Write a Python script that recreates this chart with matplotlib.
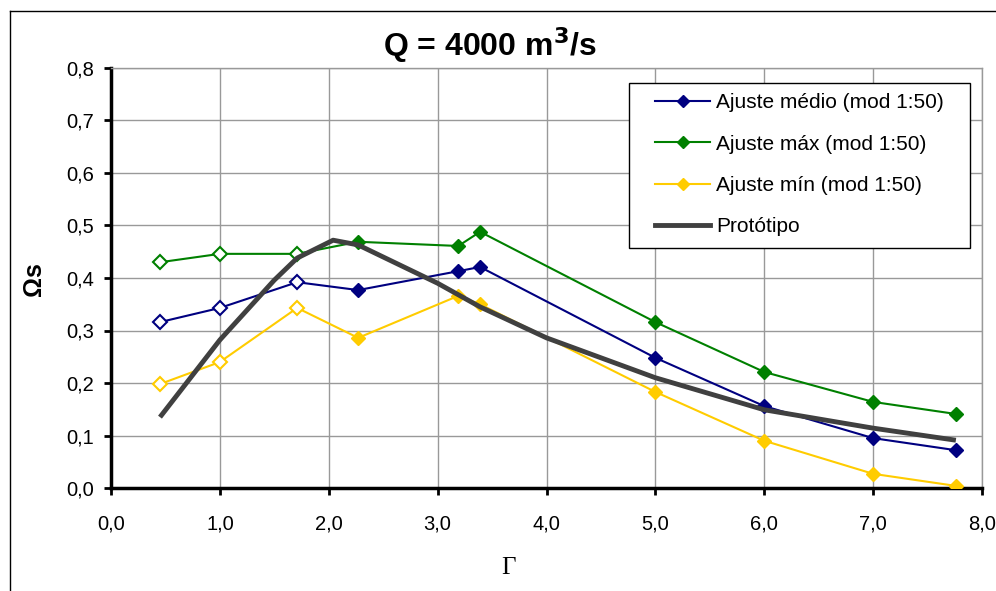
import matplotlib as mpl
mpl.use("Agg")
import matplotlib.pyplot as plt
from matplotlib.lines import Line2D
from matplotlib.patches import Rectangle
from matplotlib.ticker import FuncFormatter, MultipleLocator

# data
gamma = [0.45, 1.0, 1.71, 2.27, 3.19, 3.39, 5.0, 6.0, 7.0, 7.76]
omega_med = [0.316, 0.343, 0.392, 0.377, 0.413, 0.421, 0.248, 0.156, 0.095, 0.072]
omega_max = [0.430, 0.446, 0.446, 0.469, 0.461, 0.488, 0.316, 0.221, 0.164, 0.141]
omega_min = [0.198, 0.240, 0.343, 0.286, 0.366, 0.350, 0.183, 0.090, 0.027, 0.004]
n_open = 3  # first points drawn with hollow markers

proto_x = [0.45, 1.0, 1.5, 1.71, 2.04, 2.27, 3.0, 3.39, 4.0, 5.0, 6.0, 7.0, 7.76]
proto_y = [0.135, 0.282, 0.396, 0.438, 0.472, 0.463, 0.39, 0.345, 0.286, 0.21, 0.149, 0.114, 0.091]

labels = ["Ajuste médio (mod 1:50)", "Ajuste máx (mod 1:50)", "Ajuste mín (mod 1:50)", "Protótipo"]
colors = ["#000080", "#008000", "#FFCC00"]

SANS = ["Liberation Sans", "DejaVu Sans"]
SERIF = ["Liberation Serif", "DejaVu Serif"]

W, H = 996, 591
fig = plt.figure(figsize=(W / 100, H / 100), dpi=100)
ax = fig.add_axes([111 / W, 1 - 488 / H, (982 - 111) / W, (488 - 68) / H])

for ys, c in zip([omega_med, omega_max, omega_min], colors):
    ax.plot(gamma, ys, color=c, lw=1.5, zorder=3)
    ax.plot(gamma[:n_open], ys[:n_open], ls='none', marker='D', ms=7,
            mfc='white', mec=c, mew=1.5, zorder=4)
    ax.plot(gamma[n_open:], ys[n_open:], ls='none', marker='D', ms=7,
            mfc=c, mec=c, zorder=4)

ax.plot(proto_x, proto_y, color="#404040", lw=3.5, solid_capstyle='butt', zorder=5)

ax.set_xlim(0, 8)
ax.set_ylim(0, 0.8)
ax.xaxis.set_major_locator(MultipleLocator(1))
ax.yaxis.set_major_locator(MultipleLocator(0.1))
fmt = FuncFormatter(lambda v, p: f"{v:.1f}".replace('.', ','))
ax.xaxis.set_major_formatter(fmt)
ax.yaxis.set_major_formatter(fmt)
ax.grid(True, color="#999999", lw=1)
ax.set_axisbelow(True)

for s in ['top', 'right']:
    ax.spines[s].set_color("#999999")
    ax.spines[s].set_linewidth(1)
for s in ['left', 'bottom']:
    ax.spines[s].set_color("black")
    ax.spines[s].set_linewidth(2.5)
ax.tick_params(direction='out', length=5, width=2, color='black',
               labelsize=14.5, labelfontfamily="Liberation Sans")
ax.tick_params(axis='x', pad=14)
ax.tick_params(axis='y', pad=7)

fig.text(490 / W, 1 - 45 / H, "Q = 4000 m$^\\mathbf{3}$/s", ha='center', va='center',
         fontsize=23, fontweight='bold', family=SANS)
fig.text(34 / W, 1 - 279 / H, "Ωs", rotation=90, ha='center', va='center',
         fontsize=18, fontweight='bold', family=SANS)
fig.text(508 / W, 1 - 568 / H, "Γ", ha='center', va='center',
         fontsize=18, family=SERIF)

# legend: white box with black edge, entries placed inside without a frame
ax.add_patch(Rectangle(((629 - 111) / 871, (488 - 248) / 420), 341 / 871, 165 / 420,
                       transform=ax.transAxes, facecolor='white', edgecolor='black',
                       lw=1, zorder=6))
handles = [Line2D([], [], color=c, lw=1.5, marker='D', ms=6, mfc=c, mec=c) for c in colors]
handles.append(Line2D([], [], color="#404040", lw=3.5))
leg = ax.legend(handles, labels, loc='upper left',
                bbox_to_anchor=((655 - 111) / 871, (488 - 93) / 420),
                frameon=False, prop={'family': SANS, 'size': 15},
                handlelength=2.65, labelspacing=1.08, borderpad=0, handletextpad=0.3,
                borderaxespad=0)
leg.set_zorder(7)

# outer chart border
fig.add_artist(Line2D([10 / W, 10 / W], [0, 1 - 11 / H], color='black', lw=1, transform=fig.transFigure))
fig.add_artist(Line2D([10 / W, 1], [1 - 11 / H, 1 - 11 / H], color='black', lw=1, transform=fig.transFigure))

fig.savefig("out.png", dpi=100)
